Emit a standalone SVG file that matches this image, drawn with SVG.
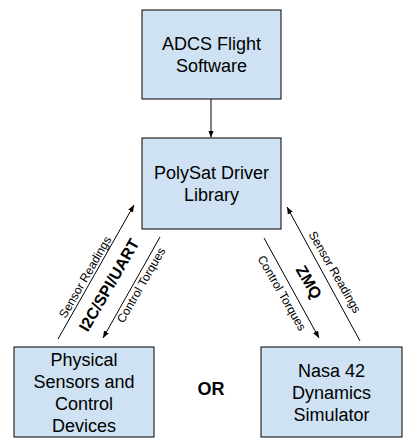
<svg xmlns="http://www.w3.org/2000/svg" width="420" height="447" viewBox="0 0 420 447">
<style>
.box{fill:#cfe2f3;stroke:#000;stroke-width:1}
.t{font-family:"Liberation Sans",Arial,sans-serif;font-size:18px;fill:#000;text-anchor:middle}
.b{font-weight:bold}
.lbl{font-family:"Liberation Sans",Arial,sans-serif;font-size:12px;fill:#000;text-anchor:middle}
.bl{font-family:"Liberation Sans",Arial,sans-serif;font-size:16px;font-weight:bold;fill:#000;text-anchor:middle}
.c{stroke:#000;stroke-width:1;fill:none;marker-end:url(#ah)}
</style>
<defs>
<marker id="ah" markerUnits="userSpaceOnUse" markerWidth="8" markerHeight="8" refX="7" refY="4" orient="auto">
<path d="M0,1.2 L7,4 L0,6.8 z" fill="#000"/>
</marker>
</defs>
<rect width="420" height="447" fill="#fff"/>
<g id="connectors">
<line class="c" x1="211" y1="99" x2="211" y2="137.5"/>
<line class="c" x1="58" y1="339" x2="134" y2="205"/>
<line class="c" x1="160" y1="237" x2="103" y2="338"/>
<line class="c" x1="264" y1="238" x2="319" y2="338"/>
<line class="c" x1="360" y1="341" x2="287" y2="207"/>
</g>
<g id="labels">
<text class="lbl" transform="translate(85,277) rotate(-60)" dy="0.35em">Sensor Readings</text>
<text class="bl" transform="translate(109,285) rotate(-60)" dy="0.35em">I2C/SPI/UART</text>
<text class="lbl" transform="translate(141,285) rotate(-60)" dy="0.35em">Control Torques</text>
<text class="lbl" transform="translate(282,293) rotate(60)" dy="0.35em">Control Torques</text>
<text class="bl" transform="translate(309,282) rotate(60)" dy="0.35em">ZMQ</text>
<text class="lbl" transform="translate(335,272) rotate(60)" dy="0.35em">Sensor Readings</text>
</g>
<g id="adcs">
<rect class="box" x="142" y="10" width="139" height="89"/>
<text class="t" x="211.5" y="50">ADCS Flight</text>
<text class="t" x="211.5" y="72">Software</text>
</g>
<g id="polysat">
<rect class="box" x="142" y="138" width="139" height="91"/>
<text class="t" x="211.5" y="179">PolySat Driver</text>
<text class="t" x="211.5" y="201">Library</text>
</g>
<g id="physical">
<rect class="box" x="14" y="347" width="140" height="90"/>
<text class="t" x="84" y="365.5">Physical</text>
<text class="t" x="84" y="387.5">Sensors and</text>
<text class="t" x="84" y="409.5">Control</text>
<text class="t" x="84" y="431.5">Devices</text>
</g>
<g id="or">
<text class="t b" x="211" y="395">OR</text>
</g>
<g id="nasa">
<rect class="box" x="261" y="347" width="141" height="90"/>
<text class="t" x="331.5" y="376.5">Nasa 42</text>
<text class="t" x="331.5" y="398.5">Dynamics</text>
<text class="t" x="331.5" y="420.5">Simulator</text>
</g>
</svg>
